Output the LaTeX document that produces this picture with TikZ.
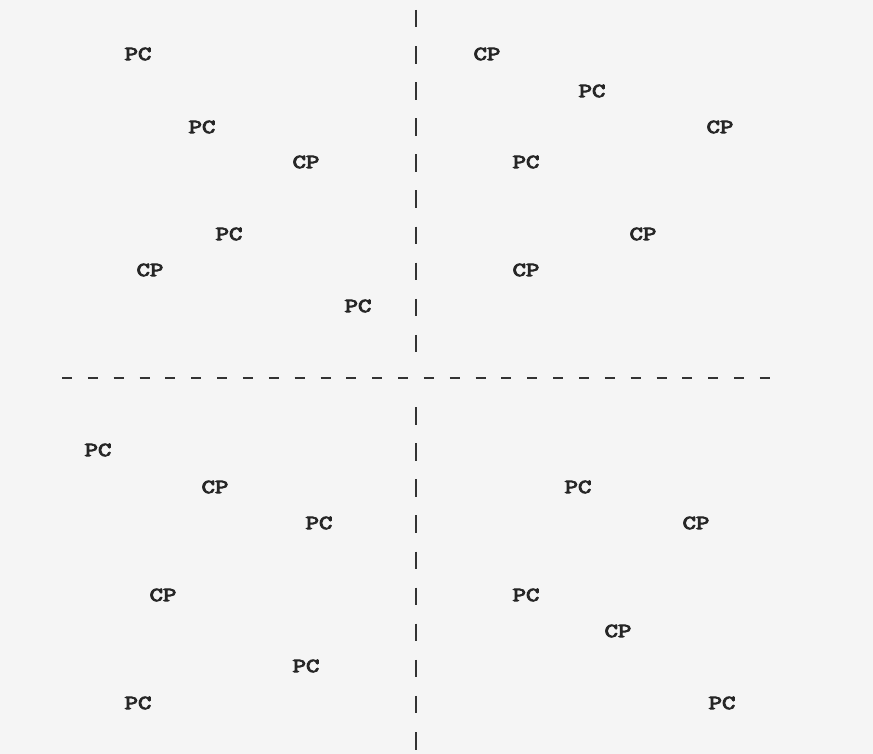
\documentclass[tikz,border=0pt]{standalone}
\usepackage{graphicx}
\usepackage{fontspec}
\newfontfamily\courbold[FakeBold=4]{Latin Modern Mono}
\newcommand{\wide}[1]{\scalebox{1.3}[1]{#1}}
\begin{document}
\begin{tikzpicture}[x=1pt,y=-1pt,
  lbl/.style={font=\courbold\fontsize{20}{20}\selectfont, text=black!85, inner sep=0pt},
  vdash/.style={line width=1.8pt, draw=black!80, dash pattern=on 17.5pt off 18.6pt},
  hdash/.style={line width=1.8pt, draw=black!80, dash pattern=on 10pt off 15.85pt}]
\fill[black!4] (0,0) rectangle (873,754);
\useasboundingbox (0,0) rectangle (873,754);
\coordinate (vt) at (416,10);
\coordinate (vm1) at (416,353);
\coordinate (vm2) at (416,407.1);
\coordinate (vb) at (416,752);
\coordinate (hl) at (62,378);
\coordinate (hr) at (771,378);
\draw[vdash] (vt) -- (vm1);
\draw[vdash] (vm2) -- (vb);
\draw[hdash] (hl) -- (hr);
% top-left
\node[lbl] (a1) at (138,54) {\wide{PC}};
\node[lbl] (a2) at (202,127) {\wide{PC}};
\node[lbl] (a3) at (306,162) {\wide{CP}};
\node[lbl] (a4) at (229,234) {\wide{PC}};
\node[lbl] (a5) at (150,270) {\wide{CP}};
\node[lbl] (a6) at (358,306) {\wide{PC}};
% top-right
\node[lbl] (b1) at (487,54) {\wide{CP}};
\node[lbl] (b2) at (592,91) {\wide{PC}};
\node[lbl] (b3) at (720,127) {\wide{CP}};
\node[lbl] (b4) at (526,162) {\wide{PC}};
\node[lbl] (b5) at (643,234) {\wide{CP}};
\node[lbl] (b6) at (526,270) {\wide{CP}};
% bottom-left
\node[lbl] (c1) at (98,450) {\wide{PC}};
\node[lbl] (c2) at (215,487) {\wide{CP}};
\node[lbl] (c3) at (319,523) {\wide{PC}};
\node[lbl] (c4) at (163,595) {\wide{CP}};
\node[lbl] (c5) at (306,666) {\wide{PC}};
\node[lbl] (c6) at (138,703) {\wide{PC}};
% bottom-right
\node[lbl] (d1) at (578,487) {\wide{PC}};
\node[lbl] (d2) at (696,523) {\wide{CP}};
\node[lbl] (d3) at (526,595) {\wide{PC}};
\node[lbl] (d4) at (618,631) {\wide{CP}};
\node[lbl] (d5) at (722,703) {\wide{PC}};
\end{tikzpicture}
\end{document}
